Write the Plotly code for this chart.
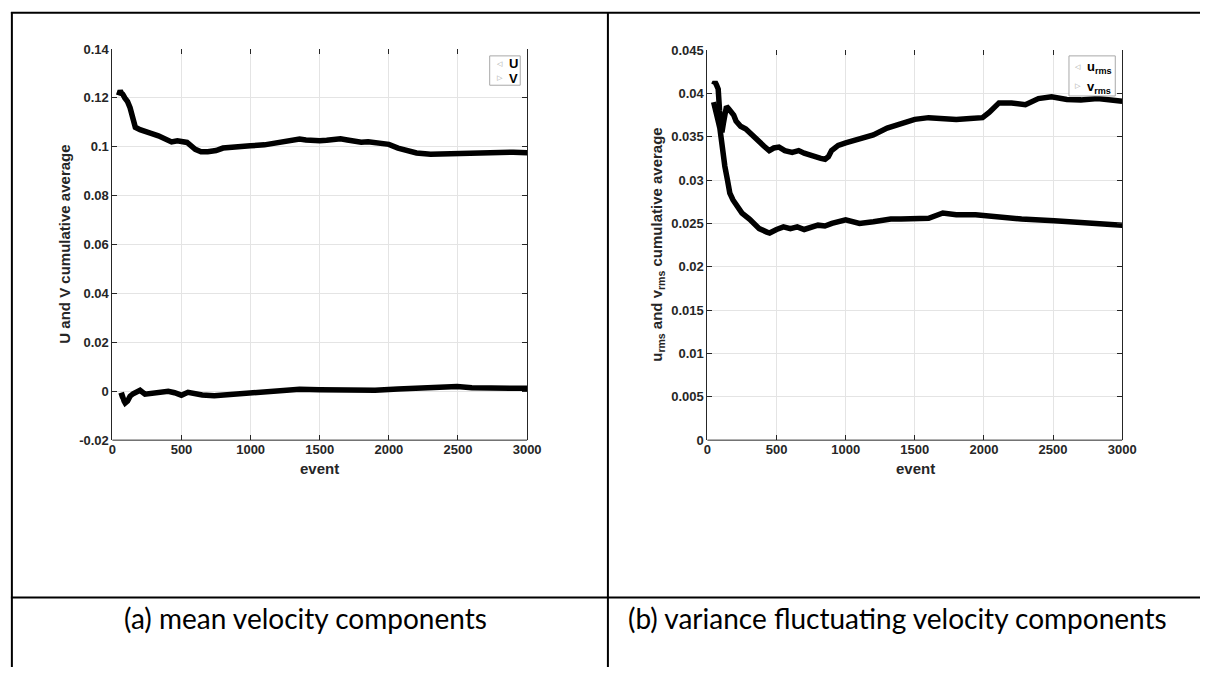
import plotly.graph_objects as go

# ---- panel (a): cumulative averages of U and V ----
u_event = [1, 3, 5, 8, 10, 13, 16, 20, 25, 30, 35, 40, 45, 50, 57, 65, 75, 90, 110, 128,
           145, 155, 166, 200, 236, 280, 333, 380, 428, 470, 499, 540, 600, 641, 690, 750,
           800, 877, 950, 998, 1100, 1233, 1300, 1354, 1400, 1450, 1500, 1550, 1600, 1650,
           1700, 1750, 1800, 1850, 1900, 1950, 2000, 2066, 2150, 2200, 2302, 2400, 2494,
           2600, 2700, 2800, 2900, 3000]
u_mean = [0.112, 0.095, 0.088, 0.086, 0.090, 0.095, 0.100, 0.105, 0.110, 0.114, 0.118, 0.120,
          0.121, 0.1225, 0.123, 0.122, 0.1215, 0.120, 0.1185, 0.116, 0.112, 0.110, 0.108,
          0.107, 0.1065, 0.1055, 0.1045, 0.103, 0.102, 0.1025, 0.1024, 0.1018, 0.099, 0.098,
          0.098, 0.0985, 0.0995, 0.100, 0.1002, 0.1004, 0.1008, 0.102, 0.1025, 0.1032,
          0.1028, 0.1024, 0.1025, 0.1027, 0.103, 0.1033, 0.1028, 0.1022, 0.1019, 0.1021,
          0.1018, 0.1012, 0.101, 0.0995, 0.0985, 0.0975, 0.097, 0.0972, 0.0972, 0.0976,
          0.0978, 0.0975, 0.0978, 0.0976]

v_event = [1, 2, 3, 5, 7, 9, 11, 13, 15, 18, 21, 25, 30, 36, 50, 71, 85, 93, 110, 128, 150,
           166, 200, 236, 300, 350, 404, 450, 499, 547, 600, 650, 737, 800, 900, 998, 1100,
           1200, 1354, 1500, 1700, 1900, 2066, 2200, 2350, 2494, 2600, 2800, 3000]
v_mean = [0.004, 0.005, 0.002, -0.003, -0.008, -0.012, -0.016, -0.018, -0.014, -0.011,
          -0.009, -0.007, -0.005, -0.004, -0.002, -0.0016, -0.004, -0.0048, -0.004, -0.002,
          -0.001, -0.0004, 0.0004, -0.0012, -0.0008, -0.0005, 0.0, -0.0006, -0.0016,
          -0.0004, -0.001, -0.0015, -0.0018, -0.0015, -0.0012, -0.0008, -0.0004, 0.0,
          0.0008, 0.0006, 0.0004, 0.0004, 0.0009, 0.0012, 0.0014, 0.0019, 0.0014, 0.0013,
          0.0012]

# ---- panel (b): cumulative averages of u_rms and v_rms ----
urms_event = [1, 3, 5, 8, 12, 18, 25, 35, 45, 55, 65, 78, 88, 97, 105, 115, 125, 138, 155,
              172, 190, 207, 240, 278, 320, 375, 410, 447, 480, 518, 560, 613, 660, 700, 732,
              780, 820, 851, 875, 898, 946, 1000, 1100, 1200, 1300, 1400, 1500, 1600, 1700,
              1800, 1900, 1990, 2038, 2109, 2200, 2300, 2394, 2489, 2600, 2701, 2822, 2900,
              3000]
urms_mean = [0.036, 0.038, 0.040, 0.041, 0.0418, 0.042, 0.0415, 0.041, 0.041, 0.0413, 0.041,
             0.0405, 0.038, 0.036, 0.0355, 0.0365, 0.0378, 0.0385, 0.0382, 0.0379, 0.0375,
             0.0368, 0.0362, 0.0359, 0.0352, 0.0345, 0.0339, 0.0334, 0.0337, 0.0338, 0.0334,
             0.0332, 0.0334, 0.0331, 0.0329, 0.0327, 0.0325, 0.0324, 0.0327, 0.0334, 0.034,
             0.0343, 0.0347, 0.0352, 0.036, 0.0365, 0.037, 0.0372, 0.0371, 0.037, 0.0371,
             0.0372, 0.0378, 0.0389, 0.0389, 0.0387, 0.0394, 0.0396, 0.0393, 0.03925, 0.0394,
             0.0392, 0.0391]

vrms_event = [1, 2, 3, 4, 5, 6, 8, 10, 13, 16, 19, 30, 45, 60, 75, 90, 108, 126, 145, 162,
              185, 207, 250, 304, 375, 430, 450, 500, 550, 600, 650, 700, 750, 800, 850, 900,
              1000, 1100, 1200, 1326, 1400, 1526, 1600, 1703, 1800, 1940, 2100, 2272, 2509,
              2746, 2983, 3000]
vrms_mean = [0.001, 0.014, 0.0155, 0.022, 0.0255, 0.028, 0.031, 0.034, 0.038, 0.041, 0.0424,
             0.041, 0.039, 0.0375, 0.037, 0.036, 0.0335, 0.0316, 0.030, 0.0285, 0.0277,
             0.0271, 0.0262, 0.0255, 0.0244, 0.024, 0.0239, 0.0243, 0.0246, 0.0244, 0.0246,
             0.0243, 0.0246, 0.0248, 0.0247, 0.025, 0.0254, 0.025, 0.0252, 0.0255, 0.0255,
             0.0255, 0.0256, 0.0262, 0.026, 0.026, 0.0257, 0.0255, 0.0253, 0.0251, 0.0248,
             0.0248]

x_ticks = [0, 500, 1000, 1500, 2000, 2500, 3000]
x_ticktext = ["0", "500", "1000", "1500", "2000", "2500", "3000"]
a_ticks = [-0.02, 0.0, 0.02, 0.04, 0.06, 0.08, 0.10, 0.12, 0.14]
a_ticktext = ["-0.02", "0", "0.02", "0.04", "0.06", "0.08", "0.1", "0.12", "0.14"]
b_ticks = [0.0, 0.005, 0.01, 0.015, 0.02, 0.025, 0.03, 0.035, 0.04, 0.045]
b_ticktext = ["0", "0.005", "0.01", "0.015", "0.02", "0.025", "0.03", "0.035", "0.04", "0.045"]

W, H = 1214, 675
EARLY = 50  # events before this are drawn as scattered markers


def px(x):
    return x / W


def py(y):
    return 1 - y / H


def add_series(fig, ev, val, symbol, xa, ya):
    early = [i for i, e in enumerate(ev) if e < EARLY]
    late = [i for i, e in enumerate(ev) if e >= EARLY - 5]
    fig.add_trace(go.Scatter(
        x=[ev[i] for i in early], y=[val[i] for i in early], mode="markers",
        marker=dict(symbol=symbol, size=6, color="rgba(0,0,0,0)",
                    line=dict(color="#6a6a6a", width=0.9)),
        xaxis=xa, yaxis=ya, showlegend=False, hoverinfo="skip"))
    fig.add_trace(go.Scatter(
        x=[ev[i] for i in late], y=[val[i] for i in late], mode="lines",
        line=dict(color="black", width=5.5),
        xaxis=xa, yaxis=ya, showlegend=False))


fig = go.Figure()
add_series(fig, u_event, u_mean, "triangle-left-open", "x", "y")
add_series(fig, v_event, v_mean, "triangle-right-open", "x", "y")
add_series(fig, urms_event, urms_mean, "triangle-left-open", "x2", "y2")
add_series(fig, vrms_event, vrms_mean, "triangle-right-open", "x2", "y2")

tick_font = dict(family="Liberation Sans, Arial, sans-serif", size=13, color="#262626",
                 weight="bold")
axis_common = dict(ticks="inside", ticklen=5, tickwidth=1, tickcolor="#262626",
                   showgrid=True, gridcolor="#e4e4e4", gridwidth=1, zeroline=False,
                   tickfont=tick_font)

xa_dom = [px(110), px(531)]
xb_dom = [px(714), px(1135)]
ya_dom = [py(443), py(43)]
yb_dom = [py(443), py(44)]

fig.update_layout(
    width=W, height=H, margin=dict(l=0, r=0, t=0, b=0),
    paper_bgcolor="white", plot_bgcolor="white", showlegend=False,
    xaxis=dict(domain=xa_dom, range=[0, 3000], tickvals=x_ticks, ticktext=x_ticktext,
               showline=False, mirror="ticks", anchor="y", **axis_common),
    yaxis=dict(domain=ya_dom, range=[-0.02, 0.14], tickvals=a_ticks, ticktext=a_ticktext,
               showline=True, linecolor="#262626", linewidth=1, mirror="ticks",
               anchor="x", **axis_common),
    xaxis2=dict(domain=xb_dom, range=[0, 3000], tickvals=x_ticks, ticktext=x_ticktext,
                showline=False, mirror="ticks", anchor="y2", **axis_common),
    yaxis2=dict(domain=yb_dom, range=[0, 0.045], tickvals=b_ticks, ticktext=b_ticktext,
                showline=True, linecolor="#262626", linewidth=1, mirror="ticks",
                anchor="x2", **axis_common),
)

shapes = []
# bottom axis lines
for dom, ydom in ((xa_dom, ya_dom), (xb_dom, yb_dom)):
    shapes.append(dict(type="line", xref="paper", yref="paper", x0=dom[0], x1=dom[1],
                       y0=ydom[0], y1=ydom[0], line=dict(color="#262626", width=1)))

# legend frames
shapes.append(dict(type="rect", xref="paper", yref="paper", x0=px(493), x1=px(524),
                   y0=py(80), y1=py(50), line=dict(color="#a8a8a8", width=1),
                   fillcolor="white"))
shapes.append(dict(type="rect", xref="paper", yref="paper", x0=px(1081), x1=px(1128),
                   y0=py(91), y1=py(50), line=dict(color="#a8a8a8", width=1),
                   fillcolor="white"))

# surrounding table rules
rule = dict(color="black", width=2)
shapes += [
    dict(type="line", xref="paper", yref="paper", x0=px(7), x1=1, y0=py(6), y1=py(6), line=rule),
    dict(type="line", xref="paper", yref="paper", x0=px(8), x1=px(8), y0=py(5), y1=0, line=rule),
    dict(type="line", xref="paper", yref="paper", x0=px(613), x1=px(613), y0=py(5), y1=0, line=rule),
    dict(type="line", xref="paper", yref="paper", x0=px(7), x1=1, y0=py(604), y1=py(604), line=rule),
]
fig.update_layout(shapes=shapes)

title_font = dict(family="Liberation Sans, Arial, sans-serif", size=15, color="#262626",
                  weight="bold")
ann = []


def note(text, x, y, font, xanchor="center", **kw):
    ann.append(dict(text=text, x=px(x), y=py(y), xref="paper", yref="paper",
                    xanchor=xanchor, yanchor="middle", showarrow=False, font=font, **kw))


note("event", 320, 472, title_font)
note("event", 925, 472, title_font)
note("U and V cumulative average", 62, 243, title_font, textangle=-90)
note("u<sub>rms</sub> and v<sub>rms</sub> cumulative average", 663, 243, title_font,
     textangle=-90)

glyph_font = dict(family="DejaVu Sans", size=7, color="#9a9a9a")
leg_font = dict(family="Liberation Sans, Arial, sans-serif", size=13, color="black",
                weight="bold")
note("◁", 503, 58, glyph_font)
note("▷", 503, 73, glyph_font)
note("U", 517, 58, leg_font)
note("V", 517, 73, leg_font)
note("◁", 1090, 61, glyph_font)
note("▷", 1090, 81, glyph_font)
note("u<sub>rms</sub>", 1097, 62, leg_font, xanchor="left")
note("v<sub>rms</sub>", 1097, 82, leg_font, xanchor="left")

cap_font = dict(family="Lato, Open Sans, sans-serif", size=28, color="black")
note("(a) mean velocity components", 306, 625, cap_font)
note("(b) variance fluctuating velocity components", 907, 625, cap_font)

fig.update_layout(annotations=ann)

fig.write_html("out.html")
